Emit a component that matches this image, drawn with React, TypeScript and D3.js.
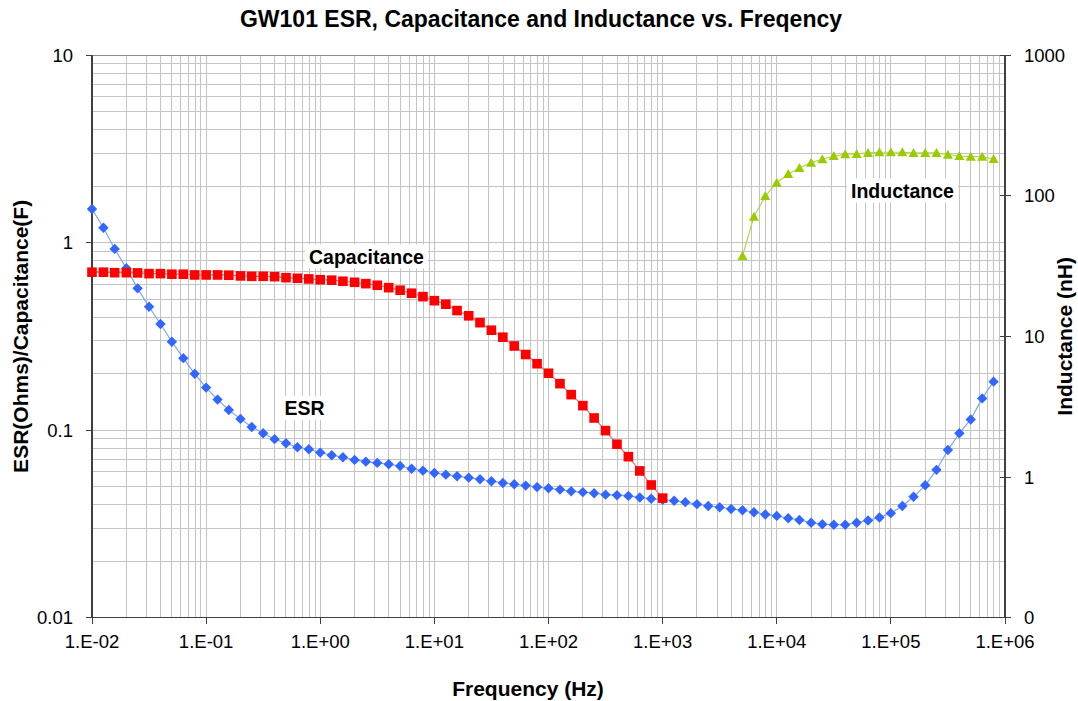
import React from 'react';
import * as d3 from 'd3';

// measurement frequencies (Hz)
const freq = [
  0.01, 0.0126, 0.0158, 0.02, 0.0251, 0.0316, 0.0398, 0.0501, 0.0631, 0.0794,
  0.1, 0.126, 0.158, 0.2, 0.251, 0.316, 0.398, 0.501, 0.631, 0.794,
  1, 1.26, 1.58, 2, 2.51, 3.16, 3.98, 5.01, 6.31, 7.94,
  10, 12.6, 15.8, 20, 25.1, 31.6, 39.8, 50.1, 63.1, 79.4,
  100, 126, 158, 200, 251, 316, 398, 501, 631, 794,
  1000, 1260, 1580, 2000, 2510, 3160, 3980, 5010, 6310, 7940,
  10000, 12600, 15800, 20000, 25100, 31600, 39800, 50100, 63100, 79400,
  100000, 126000, 158000, 200000, 251000, 316000, 398000, 501000, 631000, 794000,
];

// ESR (Ohms), one value per frequency
const esr = [
  1.51, 1.2, 0.925, 0.73, 0.57, 0.455, 0.368, 0.296, 0.242, 0.1995,
  0.1686, 0.1455, 0.128, 0.1148, 0.104, 0.0963, 0.0895, 0.0851, 0.0811, 0.0791,
  0.0759, 0.0735, 0.0717, 0.0694, 0.0679, 0.0669, 0.0658, 0.0644, 0.0623, 0.0608,
  0.0591, 0.0579, 0.0568, 0.0558, 0.0547, 0.0534, 0.0523, 0.0515, 0.0506, 0.0497,
  0.049, 0.0482, 0.0472, 0.0467, 0.0461, 0.0453, 0.045, 0.0446, 0.0437, 0.0431,
  0.0425, 0.042, 0.0413, 0.0403, 0.0394, 0.0388, 0.038, 0.0374, 0.0365, 0.0355,
  0.0349, 0.0339, 0.0332, 0.0321, 0.0315, 0.0313, 0.0313, 0.0321, 0.033, 0.0342,
  0.0361, 0.0394, 0.0441, 0.0508, 0.0614, 0.0784, 0.0962, 0.114, 0.1476, 0.1813,
];

// Capacitance (F), 1E-02 .. 1E+03 Hz
const capacitance = [
  0.695, 0.695, 0.691, 0.691, 0.689, 0.683, 0.683, 0.678, 0.678, 0.672,
  0.672, 0.672, 0.67, 0.664, 0.661, 0.661, 0.658, 0.65, 0.645, 0.64,
  0.634, 0.63, 0.622, 0.614, 0.604, 0.592, 0.575, 0.557, 0.537, 0.515,
  0.49, 0.469, 0.434, 0.407, 0.374, 0.341, 0.313, 0.281, 0.253, 0.226,
  0.201, 0.177, 0.1546, 0.1351, 0.1161, 0.0994, 0.0841, 0.0722, 0.0606, 0.051,
  0.0434,
];

// Inductance (nH), 5E+03 .. 7.9E+05 Hz
const inductance = [
  37.3, 70.9, 99.5, 123.7, 142.6, 157.3, 171.6, 181.4, 191.5, 196.9,
  197.9, 201.2, 203.5, 203.5, 203.5, 201.2, 201.2, 201.2, 195.6, 191.5,
  189.3, 189.3, 182.3,
];

const xTicks = [1e-2, 1e-1, 1e0, 1e1, 1e2, 1e3, 1e4, 1e5, 1e6];
const leftTicks = [0.01, 0.1, 1, 10];
const leftTickLabels = ['0.01', '0.1', '1', '10'];
const rightTicks = [0.1, 1, 10, 100, 1000];
const rightTickLabels = ['0', '1', '10', '100', '1000'];

const W = 1078;
const H = 701;
const plot = { left: 92, right: 1005, top: 55, bottom: 617.7 };
const FONT = '"Liberation Sans", Arial, sans-serif';

const fmtExp = (v: number) => {
  const e = Math.round(Math.log10(v));
  return `1.E${e < 0 ? '-' : '+'}${String(Math.abs(e)).padStart(2, '0')}`;
};

const App: React.FC = () => {
  const x = d3.scaleLog().domain([1e-2, 1e6]).range([plot.left, plot.right]);
  const yL = d3.scaleLog().domain([0.01, 10]).range([plot.bottom, plot.top]);
  const yR = d3.scaleLog().domain([0.1, 1000]).range([plot.bottom, plot.top]);

  // minor grid positions (2..9 within each decade)
  const xMinor: number[] = [];
  for (let i = 0; i < xTicks.length - 1; i++) {
    for (let m = 2; m <= 9; m++) xMinor.push(xTicks[i] * m);
  }
  const yMinor: number[] = [];
  for (let i = 0; i < leftTicks.length - 1; i++) {
    for (let m = 2; m <= 9; m++) yMinor.push(leftTicks[i] * m);
  }

  const esrPts = freq.map((f, i) => [x(f), yL(esr[i])] as [number, number]);
  const capPts = capacitance.map((c, i) => [x(freq[i]), yL(c)] as [number, number]);
  const indOffset = freq.length - inductance.length;
  const indPts = inductance.map((v, i) => [x(freq[i + indOffset]), yR(v)] as [number, number]);

  const line = d3.line();

  const diamond = (cx: number, cy: number, r = 5.2) =>
    `${cx},${cy - r} ${cx + r},${cy} ${cx},${cy + r} ${cx - r},${cy}`;
  const triangle = (cx: number, cy: number) =>
    `${cx},${cy - 5} ${cx + 5},${cy + 4} ${cx - 5},${cy + 4}`;

  const gridColor = '#c4c4c4';
  const axisColor = '#404040';

  const labelBox = (tx: number, ty: number, text: string, w: number) => (
    <g>
      <rect x={tx - 4} y={ty - 19} width={w + 8} height={24} fill="#fff" />
      <text x={tx} y={ty} fontSize={19.5} fontWeight="bold" fill="#000">{text}</text>
    </g>
  );

  return (
    <svg width={W} height={H} style={{ position: 'absolute', left: 0, top: 0, display: 'block', background: '#fff' }}
      fontFamily={FONT}>
      {/* grid */}
      <g shapeRendering="crispEdges" stroke={gridColor} strokeWidth={1}>
        {xMinor.concat(xTicks).map((v, i) => (
          <line key={'gx' + i} x1={x(v)} x2={x(v)} y1={plot.top} y2={plot.bottom} />
        ))}
        {yMinor.concat(leftTicks).map((v, i) => (
          <line key={'gy' + i} x1={plot.left} x2={plot.right} y1={yL(v)} y2={yL(v)} />
        ))}
      </g>

      {/* frame */}
      <g shapeRendering="crispEdges">
        <line x1={plot.left} x2={plot.right} y1={plot.top} y2={plot.top} stroke="#8c8c8c" />
        <line x1={plot.left} x2={plot.left} y1={plot.top} y2={plot.bottom} stroke={axisColor} strokeWidth={1.5} />
        <line x1={plot.right} x2={plot.right} y1={plot.top} y2={plot.bottom} stroke={axisColor} strokeWidth={1.5} />
        <line x1={plot.left} x2={plot.right} y1={plot.bottom} y2={plot.bottom} stroke={axisColor} strokeWidth={1.5} />
        {xTicks.map((v, i) => (
          <line key={'tx' + i} x1={x(v)} x2={x(v)} y1={plot.bottom - 1} y2={plot.bottom + 6} stroke={axisColor} />
        ))}
        {leftTicks.map((v, i) => (
          <line key={'tl' + i} x1={plot.left - 6} x2={plot.left} y1={yL(v)} y2={yL(v)} stroke={axisColor} />
        ))}
        {rightTicks.map((v, i) => (
          <line key={'tr' + i} x1={plot.right - 5} x2={plot.right + 6} y1={yR(v)} y2={yR(v)} stroke={axisColor} />
        ))}
      </g>

      {/* tick labels */}
      <g fontSize={18.5} fill="#000">
        {xTicks.map((v, i) => (
          <text key={'lx' + i} x={x(v)} y={648} textAnchor="middle">{fmtExp(v)}</text>
        ))}
        {leftTicks.map((v, i) => (
          <text key={'ll' + i} x={73} y={yL(v) + 6.7} textAnchor="end">{leftTickLabels[i]}</text>
        ))}
        {rightTicks.map((v, i) => (
          <text key={'lr' + i} x={1024} y={yR(v) + 6.7} textAnchor="start">{rightTickLabels[i]}</text>
        ))}
      </g>

      {/* ESR */}
      <path d={line(esrPts) || ''} fill="none" stroke="#7ea4ff" strokeWidth={1.2} />
      {esrPts.map((p, i) => (
        <polygon key={'e' + i} points={diamond(p[0], p[1])} fill="#3366ff" />
      ))}

      {/* Capacitance */}
      <path d={line(capPts) || ''} fill="none" stroke="#ff7070" strokeWidth={1.2} />
      {capPts.map((p, i) => (
        <rect key={'c' + i} x={p[0] - 4.8} y={p[1] - 4.8} width={9.6} height={9.6} fill="#ff0000" />
      ))}

      {/* Inductance */}
      <path d={line(indPts) || ''} fill="none" stroke="#b2d646" strokeWidth={1.2} />
      {indPts.map((p, i) => (
        <polygon key={'n' + i} points={triangle(p[0], p[1])} fill="#99cc00" />
      ))}

      {/* series labels */}
      {labelBox(309, 263.5, 'Capacitance', 115)}
      {labelBox(284.5, 415, 'ESR', 39)}
      {labelBox(851, 197.5, 'Inductance', 103)}

      {/* titles */}
      <text x={W / 2 + 2} y={27} textAnchor="middle" fontSize={23} fontWeight="bold">
        GW101 ESR, Capacitance and Inductance vs. Freqency
      </text>
      <text x={528} y={696} textAnchor="middle" fontSize={21} fontWeight="bold">Frequency (Hz)</text>
      <text transform={`translate(28,${(plot.top + plot.bottom) / 2}) rotate(-90)`} textAnchor="middle"
        fontSize={21} fontWeight="bold">ESR(Ohms)/Capacitance(F)</text>
      <text transform={`translate(1072,${(plot.top + plot.bottom) / 2}) rotate(-90)`} textAnchor="middle"
        fontSize={21} fontWeight="bold">Inductance (nH)</text>
    </svg>
  );
};

export default App;
